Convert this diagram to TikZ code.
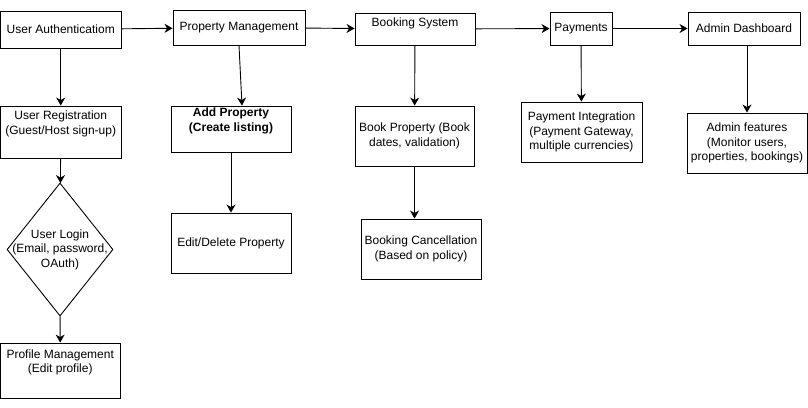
\documentclass[tikz,border=0pt]{standalone}
\usepackage{fontspec}
\setmainfont{Liberation Sans}
\usetikzlibrary{shapes.geometric,arrows.meta,positioning}
\tikzset{
	box/.style={rectangle,draw,line width=0.9pt,inner sep=0pt,align=center,font=\fontsize{12}{14.5}\selectfont},
	decision/.style={diamond,draw,line width=0.9pt,inner sep=0pt,minimum width=106pt,minimum height=133pt},
	flow/.style={-{Stealth[length=8pt,width=9pt,inset=2.5pt]},line width=0.9pt,color=black}
}

\begin{document}
\begin{tikzpicture}[x=1pt,y=-1pt]
	\useasboundingbox (0,0) rectangle (808,407);
	%%%top row
	\node[box,minimum width=120.5pt,minimum height=37pt] (ua) at (60.75,29.5) {User Authenticatiom};
	\node[box,minimum width=132pt,minimum height=35pt] (pm) at (239,27.5) {Property Management};
	\node[box,minimum width=120pt,minimum height=32pt] (bs) at (415,29) {\raisebox{3pt}[0pt][0pt]{Booking System}};
	\node[box,minimum width=62pt,minimum height=33pt] (pay) at (581,28.5) {Payments};
	\node[box,minimum width=112pt,minimum height=33pt] (ad) at (744,28.5) {Admin Dashboard};
	
	%%%user column
	\node[box,minimum width=120.5pt,minimum height=52pt] (ur) at (60.75,132) {User Registration\\(Guest/Host sign-up)\\ \strut};
	\node[decision,label={[font=\fontsize{12}{14.5}\selectfont,align=center]center:User Login\\(Email, password,\\OAuth)}] (login) at (60,249.5) {};
	\node[box,minimum width=119.5pt,minimum height=55pt] (prof) at (60.25,370.5) {Profile Management\\(Edit profile)\\ \strut};
	
	%%%property column
	\node[box,minimum width=120pt,minimum height=46pt] (ap) at (231,129) {\bfseries Add Property\\\bfseries (Create listing)\\ \strut};
	\node[box,minimum width=120pt,minimum height=60pt] (ed) at (231,243) {Edit/Delete Property};
	
	%%%booking column
	\node[box,minimum width=119pt,minimum height=60pt] (bp) at (414.5,136) {Book Property (Book\\dates, validation)};
	\node[box,minimum width=120pt,minimum height=60pt] (bc) at (421,249) {Booking Cancellation\\(Based on policy)};
	
	%%%payments and admin
	\node[box,minimum width=121pt,minimum height=60pt] (pi) at (581.5,132) {Payment Integration\\(Payment Gateway,\\multiple currencies)};
	\node[box,minimum width=120pt,minimum height=60pt] (af) at (747,143) {Admin features\\(Monitor users,\\properties, bookings)};
	
	\draw[flow] (ua) -- (pm);
	\draw[flow] (pm) -- (bs);
	\draw[flow] (bs) -- (pay);
	\draw[flow] (pay) -- (ad);
	
	\draw[flow] (ua) -- (ur);
	\draw[flow] (ur) -- (login);
	\draw[flow] (login) -- (prof);
	\draw[flow] (pm.south) -- ([xshift=11pt]ap.north);
	\draw[flow] (ap) -- (ed);
	\draw[flow] (bs) -- (bp);
	\draw[flow] (bp.south) -- (bp.south |- bc.north);
	\draw[flow] (pay) -- (pi);
	\draw[flow] (af.north |- ad.south) -- (af.north);
\end{tikzpicture}
\end{document}
